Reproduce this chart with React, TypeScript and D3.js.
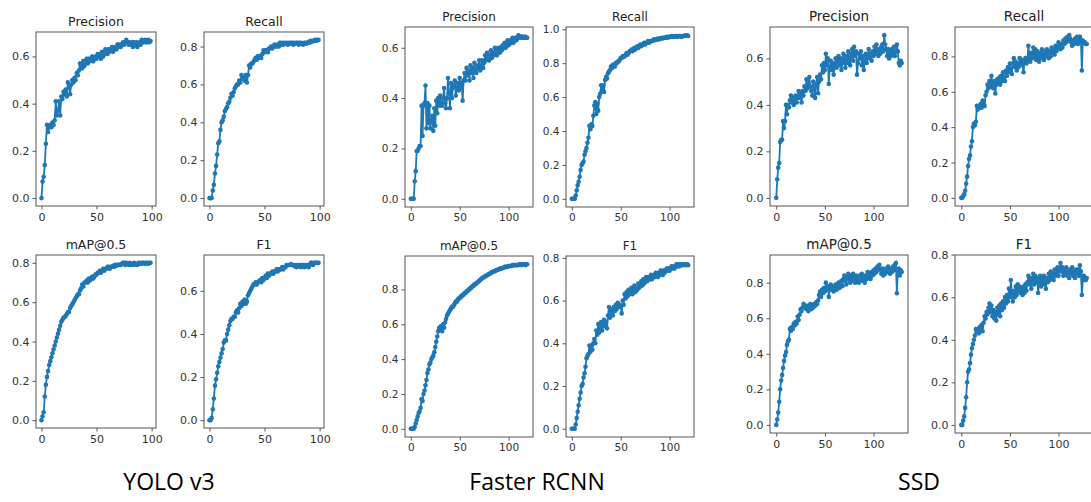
import React, { useEffect, useRef } from "react";
import * as d3 from "d3";

// metric names, same order for each model
const metrics = ["Precision", "Recall", "mAP@0.5", "F1"];
const models = ["YOLO v3", "Faster RCNN", "SSD"];
const xTicks = [0, 50, 100];

// ---- YOLO v3 (100 epochs)
const yoloPrecision = [
  0, 0.07, 0.09, 0.14, 0.23, 0.31, 0.28, 0.30, 0.31, 0.30,
  0.32, 0.31, 0.33, 0.41, 0.35, 0.37, 0.41, 0.35, 0.43, 0.42,
  0.45, 0.44, 0.46, 0.43, 0.49, 0.47, 0.44, 0.48, 0.50, 0.49,
  0.51, 0.50, 0.53, 0.52, 0.54, 0.57, 0.56, 0.55, 0.58, 0.56,
  0.58, 0.59, 0.57, 0.59, 0.58, 0.59, 0.60, 0.58, 0.59, 0.60,
  0.59, 0.61, 0.60, 0.61, 0.59, 0.62, 0.60, 0.61, 0.63, 0.62,
  0.61, 0.63, 0.62, 0.63, 0.64, 0.62, 0.63, 0.64, 0.63, 0.65,
  0.64, 0.65, 0.64, 0.65, 0.66, 0.65, 0.66, 0.67, 0.66, 0.65,
  0.66, 0.65, 0.66, 0.64, 0.66, 0.65, 0.66, 0.64, 0.65, 0.66,
  0.65, 0.67, 0.66, 0.66, 0.67, 0.66, 0.66, 0.67, 0.66, 0.665,
];
const yoloRecall = [
  0, 0, 0, 0.04, 0.07, 0.13, 0.17, 0.23, 0.29, 0.30,
  0.36, 0.40, 0.41, 0.43, 0.46, 0.47, 0.48, 0.50, 0.51, 0.53,
  0.55, 0.54, 0.56, 0.58, 0.59, 0.60, 0.60, 0.62, 0.61, 0.65,
  0.63, 0.64, 0.62, 0.65, 0.61, 0.65, 0.70, 0.69, 0.71, 0.71,
  0.72, 0.73, 0.74, 0.73, 0.75, 0.74, 0.75, 0.74, 0.76, 0.78,
  0.77, 0.78, 0.78, 0.77, 0.79, 0.79, 0.80, 0.79, 0.80, 0.81,
  0.80, 0.80, 0.81, 0.80, 0.82, 0.81, 0.82, 0.81, 0.82, 0.815,
  0.82, 0.81, 0.82, 0.815, 0.82, 0.82, 0.81, 0.82, 0.815, 0.82,
  0.82, 0.81, 0.82, 0.82, 0.815, 0.81, 0.82, 0.82, 0.815, 0.82,
  0.825, 0.82, 0.83, 0.825, 0.83, 0.83, 0.835, 0.83, 0.835, 0.835,
];
const yoloMap = [
  0, 0.02, 0.04, 0.12, 0.18, 0.22, 0.25, 0.28, 0.30, 0.32,
  0.34, 0.36, 0.38, 0.40, 0.42, 0.44, 0.46, 0.48, 0.50, 0.51,
  0.52, 0.525, 0.53, 0.54, 0.55, 0.55, 0.57, 0.58, 0.59, 0.60,
  0.61, 0.62, 0.63, 0.64, 0.64, 0.66, 0.67, 0.69, 0.68, 0.70,
  0.70, 0.71, 0.70, 0.72, 0.71, 0.72, 0.73, 0.72, 0.73, 0.74,
  0.74, 0.75, 0.75, 0.76, 0.75, 0.76, 0.77, 0.76, 0.77, 0.77,
  0.78, 0.78, 0.77, 0.78, 0.78, 0.785, 0.78, 0.79, 0.785, 0.79,
  0.79, 0.79, 0.79, 0.795, 0.80, 0.80, 0.79, 0.80, 0.795, 0.79,
  0.80, 0.79, 0.795, 0.79, 0.80, 0.795, 0.79, 0.79, 0.80, 0.795,
  0.80, 0.795, 0.80, 0.80, 0.795, 0.80, 0.80, 0.795, 0.80, 0.80,
];
const yoloF1 = [
  0, 0, 0.01, 0.05, 0.10, 0.16, 0.19, 0.22, 0.25, 0.27,
  0.29, 0.31, 0.33, 0.36, 0.37, 0.37, 0.40, 0.42, 0.44, 0.46,
  0.47, 0.47, 0.48, 0.48, 0.50, 0.51, 0.50, 0.52, 0.54, 0.53,
  0.55, 0.54, 0.56, 0.54, 0.55, 0.58, 0.59, 0.60, 0.61, 0.62,
  0.63, 0.63, 0.64, 0.63, 0.64, 0.645, 0.65, 0.64, 0.66, 0.65,
  0.66, 0.67, 0.66, 0.68, 0.67, 0.68, 0.68, 0.69, 0.68, 0.69,
  0.69, 0.70, 0.69, 0.70, 0.70, 0.70, 0.71, 0.70, 0.71, 0.71,
  0.72, 0.72, 0.72, 0.72, 0.725, 0.72, 0.72, 0.715, 0.72, 0.71,
  0.72, 0.715, 0.72, 0.71, 0.72, 0.72, 0.71, 0.72, 0.715, 0.72,
  0.71, 0.72, 0.73, 0.73, 0.72, 0.73, 0.73, 0.73, 0.73, 0.73,
];

// ---- Faster RCNN (120 epochs)
const fasterPrecision = [
  0, 0, 0, 0, 0.07, 0.11, 0.19, 0.19, 0.20, 0.21,
  0.21, 0.37, 0.25, 0.37, 0.38, 0.45, 0.28, 0.38, 0.30, 0.37,
  0.28, 0.31, 0.33, 0.27, 0.36, 0.29, 0.39, 0.34, 0.40, 0.37,
  0.41, 0.38, 0.37, 0.40, 0.44, 0.38, 0.36, 0.40, 0.48, 0.42,
  0.36, 0.46, 0.40, 0.44, 0.45, 0.47, 0.41, 0.44, 0.46, 0.43,
  0.48, 0.44, 0.46, 0.39, 0.47, 0.50, 0.47, 0.52, 0.49, 0.51,
  0.47, 0.53, 0.50, 0.52, 0.48, 0.54, 0.51, 0.50, 0.53, 0.52,
  0.55, 0.51, 0.53, 0.55, 0.52, 0.54, 0.57, 0.55, 0.58, 0.56,
  0.55, 0.57, 0.59, 0.56, 0.58, 0.57, 0.60, 0.58, 0.57, 0.59,
  0.60, 0.58, 0.60, 0.59, 0.61, 0.60, 0.62, 0.60, 0.61, 0.63,
  0.61, 0.62, 0.63, 0.62, 0.64, 0.62, 0.63, 0.64, 0.63, 0.64,
  0.65, 0.64, 0.645, 0.64, 0.645, 0.64, 0.64, 0.645, 0.64, 0.64,
];
const fasterRecall = [
  0, 0, 0, 0, 0.02, 0.05, 0.08, 0.10, 0.13, 0.17,
  0.20, 0.21, 0.22, 0.26, 0.28, 0.30, 0.33, 0.36, 0.43, 0.41,
  0.44, 0.43, 0.49, 0.55, 0.57, 0.50, 0.56, 0.52, 0.60, 0.62,
  0.67, 0.64, 0.67, 0.63, 0.70, 0.72, 0.71, 0.74, 0.75, 0.76,
  0.78, 0.77, 0.79, 0.79, 0.78, 0.80, 0.80, 0.81, 0.81, 0.82,
  0.83, 0.83, 0.84, 0.84, 0.84, 0.85, 0.86, 0.85, 0.86, 0.87,
  0.87, 0.88, 0.87, 0.88, 0.89, 0.88, 0.89, 0.90, 0.89, 0.90,
  0.91, 0.90, 0.91, 0.91, 0.92, 0.91, 0.92, 0.92, 0.93, 0.92,
  0.93, 0.93, 0.93, 0.935, 0.94, 0.935, 0.94, 0.94, 0.945, 0.94,
  0.945, 0.945, 0.95, 0.945, 0.95, 0.95, 0.95, 0.955, 0.95, 0.955,
  0.955, 0.955, 0.96, 0.955, 0.96, 0.955, 0.96, 0.96, 0.955, 0.96,
  0.96, 0.96, 0.955, 0.96, 0.96, 0.96, 0.965, 0.96, 0.965, 0.96,
];
const fasterMap = [
  0, 0, 0, 0, 0.01, 0.03, 0.05, 0.07, 0.09, 0.10,
  0.12, 0.17, 0.16, 0.20, 0.22, 0.25, 0.28, 0.32, 0.34, 0.37,
  0.38, 0.40, 0.41, 0.42, 0.44, 0.47, 0.50, 0.53, 0.56, 0.58,
  0.57, 0.59, 0.56, 0.60, 0.58, 0.61, 0.63, 0.65, 0.66, 0.67,
  0.68, 0.69, 0.70, 0.70, 0.71, 0.72, 0.73, 0.73, 0.74, 0.75,
  0.75, 0.76, 0.76, 0.77, 0.77, 0.78, 0.78, 0.79, 0.79, 0.80,
  0.80, 0.81, 0.81, 0.82, 0.82, 0.83, 0.83, 0.835, 0.84, 0.845,
  0.85, 0.855, 0.86, 0.865, 0.87, 0.87, 0.875, 0.88, 0.88, 0.885,
  0.89, 0.89, 0.895, 0.90, 0.90, 0.905, 0.905, 0.91, 0.91, 0.915,
  0.915, 0.92, 0.92, 0.92, 0.925, 0.925, 0.93, 0.93, 0.93, 0.93,
  0.935, 0.935, 0.935, 0.935, 0.94, 0.94, 0.94, 0.94, 0.94, 0.94,
  0.94, 0.945, 0.945, 0.94, 0.945, 0.945, 0.945, 0.94, 0.945, 0.945,
];
const fasterF1 = [
  0, 0, 0, 0, 0.02, 0.05, 0.08, 0.11, 0.14, 0.17,
  0.20, 0.21, 0.24, 0.26, 0.29, 0.33, 0.34, 0.35, 0.39, 0.36,
  0.39, 0.37, 0.40, 0.42, 0.40, 0.46, 0.44, 0.49, 0.45, 0.47,
  0.50, 0.46, 0.49, 0.51, 0.48, 0.50, 0.47, 0.53, 0.57, 0.52,
  0.56, 0.55, 0.53, 0.57, 0.55, 0.58, 0.56, 0.59, 0.57, 0.58,
  0.57, 0.54, 0.60, 0.58, 0.63, 0.61, 0.64, 0.62, 0.65, 0.63,
  0.64, 0.66, 0.63, 0.65, 0.67, 0.64, 0.66, 0.65, 0.68, 0.66,
  0.67, 0.69, 0.67, 0.70, 0.68, 0.69, 0.71, 0.69, 0.70, 0.71,
  0.70, 0.72, 0.70, 0.71, 0.72, 0.71, 0.73, 0.72, 0.71, 0.73,
  0.72, 0.74, 0.73, 0.72, 0.74, 0.73, 0.74, 0.75, 0.74, 0.75,
  0.74, 0.75, 0.76, 0.75, 0.76, 0.75, 0.76, 0.77, 0.76, 0.77,
  0.76, 0.77, 0.765, 0.77, 0.765, 0.77, 0.77, 0.765, 0.77, 0.765,
];

// ---- SSD (130 epochs)
const ssdPrecision = [
  0, 0.08, 0.13, 0.15, 0.24, 0.25, 0.25, 0.33, 0.30, 0.33,
  0.40, 0.36, 0.40, 0.39, 0.42, 0.44, 0.41, 0.43, 0.40, 0.42,
  0.44, 0.41, 0.43, 0.46, 0.43, 0.45, 0.41, 0.46, 0.44, 0.48,
  0.46, 0.51, 0.47, 0.49, 0.52, 0.48, 0.46, 0.44, 0.50, 0.47,
  0.43, 0.49, 0.52, 0.45, 0.50, 0.53, 0.51, 0.57, 0.54, 0.58,
  0.55, 0.62, 0.57, 0.60, 0.49, 0.56, 0.59, 0.55, 0.58, 0.53,
  0.57, 0.60, 0.56, 0.59, 0.61, 0.57, 0.60, 0.55, 0.58, 0.62,
  0.59, 0.56, 0.61, 0.58, 0.63, 0.60, 0.57, 0.62, 0.64, 0.59,
  0.65, 0.61, 0.63, 0.53, 0.58, 0.62, 0.60, 0.63, 0.57, 0.61,
  0.55, 0.59, 0.62, 0.58, 0.61, 0.64, 0.60, 0.62, 0.59, 0.63,
  0.61, 0.65, 0.62, 0.66, 0.63, 0.61, 0.64, 0.62, 0.65, 0.66,
  0.63, 0.70, 0.66, 0.64, 0.61, 0.64, 0.60, 0.63, 0.61, 0.64,
  0.62, 0.65, 0.61, 0.63, 0.66, 0.63, 0.58, 0.57, 0.59, 0.58,
];
const ssdRecall = [
  0, 0, 0.01, 0.02, 0.04, 0.08, 0.12, 0.18, 0.22, 0.24,
  0.29, 0.32, 0.40, 0.42, 0.41, 0.43, 0.52, 0.50, 0.52, 0.51,
  0.53, 0.51, 0.55, 0.53, 0.52, 0.58, 0.60, 0.64, 0.62, 0.66,
  0.63, 0.69, 0.65, 0.62, 0.66, 0.59, 0.64, 0.67, 0.65, 0.68,
  0.64, 0.69, 0.66, 0.71, 0.68, 0.66, 0.72, 0.69, 0.74, 0.71,
  0.76, 0.73, 0.70, 0.76, 0.79, 0.74, 0.77, 0.72, 0.76, 0.74,
  0.79, 0.76, 0.78, 0.75, 0.71, 0.77, 0.79, 0.76, 0.78, 0.86,
  0.80, 0.77, 0.82, 0.79, 0.85, 0.80, 0.84, 0.78, 0.83, 0.80,
  0.77, 0.82, 0.79, 0.84, 0.81, 0.78, 0.83, 0.80, 0.84, 0.81,
  0.79, 0.83, 0.80, 0.85, 0.82, 0.84, 0.81, 0.86, 0.83, 0.85,
  0.88, 0.86, 0.84, 0.87, 0.85, 0.89, 0.87, 0.90, 0.88, 0.91,
  0.89, 0.92, 0.90, 0.88, 0.86, 0.89, 0.87, 0.90, 0.88, 0.91,
  0.87, 0.89, 0.91, 0.89, 0.72, 0.89, 0.88, 0.88, 0.87, 0.87,
];
const ssdMap = [
  0, 0.03, 0.07, 0.13, 0.20, 0.25, 0.28, 0.32, 0.36, 0.39,
  0.41, 0.45, 0.47, 0.48, 0.54, 0.53, 0.55, 0.54, 0.57, 0.56,
  0.58, 0.57, 0.61, 0.59, 0.62, 0.65, 0.64, 0.66, 0.68, 0.66,
  0.67, 0.65, 0.67, 0.64, 0.66, 0.68, 0.65, 0.67, 0.66, 0.68,
  0.67, 0.69, 0.68, 0.70, 0.73, 0.75, 0.72, 0.76, 0.74, 0.77,
  0.75, 0.80, 0.76, 0.78, 0.72, 0.76, 0.79, 0.76, 0.78, 0.75,
  0.77, 0.79, 0.76, 0.78, 0.80, 0.77, 0.79, 0.81, 0.78, 0.82,
  0.84, 0.81, 0.79, 0.83, 0.85, 0.82, 0.80, 0.84, 0.81, 0.85,
  0.82, 0.80, 0.84, 0.81, 0.83, 0.80, 0.84, 0.82, 0.85, 0.81,
  0.83, 0.80, 0.84, 0.82, 0.86, 0.83, 0.85, 0.82, 0.86, 0.84,
  0.87, 0.85, 0.88, 0.86, 0.89, 0.88, 0.90, 0.87, 0.85, 0.88,
  0.84, 0.86, 0.85, 0.88, 0.86, 0.89, 0.87, 0.85, 0.88, 0.86,
  0.89, 0.87, 0.90, 0.91, 0.74, 0.86, 0.88, 0.84, 0.87, 0.86,
];
const ssdF1 = [
  0, 0, 0.02, 0.04, 0.08, 0.13, 0.20, 0.25, 0.26, 0.29,
  0.33, 0.36, 0.38, 0.40, 0.42, 0.45, 0.44, 0.45, 0.43, 0.46,
  0.44, 0.47, 0.44, 0.48, 0.51, 0.50, 0.53, 0.52, 0.55, 0.57,
  0.53, 0.56, 0.51, 0.54, 0.50, 0.53, 0.49, 0.55, 0.52, 0.56,
  0.51, 0.57, 0.54, 0.58, 0.55, 0.60, 0.57, 0.61, 0.58, 0.64,
  0.60, 0.68, 0.62, 0.58, 0.63, 0.60, 0.65, 0.61, 0.66, 0.63,
  0.65, 0.62, 0.64, 0.61, 0.65, 0.62, 0.66, 0.63, 0.67, 0.70,
  0.66, 0.69, 0.64, 0.68, 0.71, 0.66, 0.70, 0.67, 0.69, 0.62,
  0.67, 0.70, 0.65, 0.69, 0.66, 0.70, 0.68, 0.64, 0.69, 0.67,
  0.71, 0.68, 0.72, 0.69, 0.71, 0.68, 0.73, 0.70, 0.72, 0.74,
  0.70, 0.73, 0.76, 0.72, 0.74, 0.70, 0.73, 0.71, 0.74, 0.70,
  0.72, 0.69, 0.73, 0.71, 0.74, 0.70, 0.72, 0.69, 0.73, 0.71,
  0.73, 0.70, 0.75, 0.72, 0.61, 0.68, 0.70, 0.69, 0.68, 0.69,
];

// y tick labels per panel (Precision, Recall, mAP, F1)
const yoloYTicks = [[0, 0.2, 0.4, 0.6], [0, 0.2, 0.4, 0.6, 0.8], [0, 0.2, 0.4, 0.6, 0.8], [0, 0.2, 0.4, 0.6]];
const fasterYTicks = [[0, 0.2, 0.4, 0.6], [0, 0.2, 0.4, 0.6, 0.8, 1.0], [0, 0.2, 0.4, 0.6, 0.8], [0, 0.2, 0.4, 0.6, 0.8]];
const ssdYTicks = [[0, 0.2, 0.4, 0.6], [0, 0.2, 0.4, 0.6, 0.8], [0, 0.2, 0.4, 0.6, 0.8], [0, 0.2, 0.4, 0.6, 0.8]];

const series = [
  [yoloPrecision, yoloRecall, yoloMap, yoloF1],
  [fasterPrecision, fasterRecall, fasterMap, fasterF1],
  [ssdPrecision, ssdRecall, ssdMap, ssdF1],
];
const yTicks = [yoloYTicks, fasterYTicks, ssdYTicks];

// where each model's 2x2 block of axes sits (pixels)
const layout = [
  { lefts: [36, 204], width: 120, tops: [32, 255], heights: [174, 173], tick: 11, title: 12.5, label: 169 },
  { lefts: [405, 566], width: 128, tops: [27, 256], heights: [180, 181], tick: 10.5, title: 12, label: 537 },
  { lefts: [770, 955], width: 138, tops: [27, 255], heights: [179, 178], tick: 11, title: 13.5, label: 919 },
];

const blue = "#1f77b4";

export default function App() {
  const ref = useRef<SVGSVGElement>(null);

  useEffect(() => {
    const svg = d3.select(ref.current);
    svg.selectAll("*").remove();

    models.forEach((model, g) => {
      const lay = layout[g];
      metrics.forEach((metric, k) => {
        const data = series[g][k];
        const col = k % 2;
        const row = Math.floor(k / 2);
        const left = lay.lefts[col];
        const top = lay.tops[row];
        const w = lay.width;
        const h = lay.heights[row];

        const n = data.length - 1;
        const x = d3.scaleLinear().domain([-0.05 * n, 1.05 * n]).range([left, left + w]);
        const [lo, hi] = d3.extent(data) as [number, number];
        const pad = (hi - lo) * 0.05;
        const y = d3.scaleLinear().domain([lo - pad, hi + pad]).range([top + h, top]);

        const panel = svg.append("g");

        const xAxis = panel.append("g")
          .attr("transform", `translate(0,${top + h})`)
          .call(d3.axisBottom(x).tickValues(xTicks).tickFormat(d3.format("d")).tickSize(3.5).tickPadding(3.5));
        const yAxis = panel.append("g")
          .attr("transform", `translate(${left},0)`)
          .call(d3.axisLeft(y).tickValues(yTicks[g][k]).tickFormat(d3.format(".1f")).tickSize(3.5).tickPadding(3));
        [xAxis, yAxis].forEach(a => {
          a.select(".domain").remove();
          a.selectAll("line").attr("stroke", "#444").attr("stroke-width", 0.9);
          a.selectAll("text")
            .attr("fill", "#333")
            .style("font-family", "'DejaVu Sans', sans-serif")
            .style("font-size", lay.tick + "px");
        });

        panel.append("rect")
          .attr("x", left).attr("y", top).attr("width", w).attr("height", h)
          .attr("fill", "none").attr("stroke", "#555").attr("stroke-width", 1);

        const line = d3.line<number>().x((_, i) => x(i)).y(d => y(d));
        panel.append("path")
          .datum(data)
          .attr("d", line)
          .attr("fill", "none")
          .attr("stroke", blue)
          .attr("stroke-width", 1.8);

        panel.selectAll("circle")
          .data(data)
          .enter().append("circle")
          .attr("cx", (_, i) => x(i))
          .attr("cy", d => y(d))
          .attr("r", 2.3)
          .attr("fill", blue);

        panel.append("text")
          .attr("x", left + w / 2)
          .attr("y", top - 6)
          .attr("text-anchor", "middle")
          .attr("fill", "#222")
          .style("font-family", "'DejaVu Sans', sans-serif")
          .style("font-size", lay.title + "px")
          .text(metric);
      });

      svg.append("text")
        .attr("x", lay.label)
        .attr("y", 490)
        .attr("text-anchor", "middle")
        .attr("fill", "#000")
        .style("font-family", "'Open Sans', sans-serif")
        .style("font-size", "23px")
        .text(model);
    });
  }, []);

  return (
    <svg
      ref={ref}
      width={1091}
      height={502}
      style={{ position: "absolute", left: 0, top: 0, background: "#fff", overflow: "hidden" }}
    />
  );
}
